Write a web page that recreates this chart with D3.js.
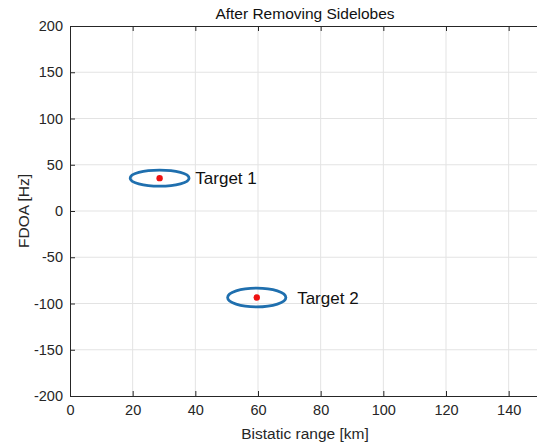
<!DOCTYPE html>
<html>
<head>
<meta charset="utf-8">
<script src="https://cdn.jsdelivr.net/npm/d3@7"></script>
<style>
  body { margin: 0; background: #fff; }
  svg { display: block; font-family: "Liberation Sans", Arial, sans-serif; }
</style>
</head>
<body>
<svg width="537" height="445"></svg>
<script>
// targets: center (range km, FDOA Hz) and ellipse half-widths
var targetNames = ["Target 1", "Target 2"];
var targetRange = [28.6, 59.6];
var targetFdoa = [35.5, -93.5];
var ellipseRx = [9.4, 9.3];
var ellipseRy = [8.7, 10.2];
var labelRange = [40, 72.5];
var xTicks = [0, 20, 40, 60, 80, 100, 120, 140];
var yTicks = [-200, -150, -100, -50, 0, 50, 100, 150, 200];

var width = 537;
var height = 445;
var margin = ({top: 26, right: -3, bottom: 49, left: 70});
var plotW = 470, plotH = 370;

var x = d3.scaleLinear()
    .domain([0, 150])
    .range([margin.left, margin.left + plotW]);
var y = d3.scaleLinear()
    .domain([-200, 200])
    .range([margin.top + plotH, margin.top]);

var targets = targetNames.map((name, i) => ({
  name, r: targetRange[i], f: targetFdoa[i],
  rx: ellipseRx[i], ry: ellipseRy[i], lr: labelRange[i]
}));

// MATLAB prints a plain hyphen for negatives
var fmt = d => String(d);

(function chart() {
  var svg = d3.select("svg");
  var axisColor = "#262626";

  // grid
  svg.append("g")
    .selectAll("line")
    .data(xTicks.filter(d => d > 0))
    .join("line")
      .attr("x1", d => x(d)).attr("x2", d => x(d))
      .attr("y1", y(-200)).attr("y2", y(200))
      .attr("stroke", "#e3e3e3").attr("stroke-width", 1);
  svg.append("g")
    .selectAll("line")
    .data(yTicks.filter(d => d > -200 && d < 200))
    .join("line")
      .attr("x1", x(0)).attr("x2", x(150))
      .attr("y1", d => y(d)).attr("y2", d => y(d))
      .attr("stroke", "#e3e3e3").attr("stroke-width", 1);

  // axes (ticks inward, MATLAB style)
  var xAxis = g => g
    .attr("transform", `translate(0,${y(-200)})`)
    .call(d3.axisBottom(x).tickValues(xTicks).tickFormat(fmt).tickSize(-5).tickPadding(9).tickSizeOuter(0))
    .call(g => g.select(".domain").attr("stroke", axisColor))
    .call(g => g.selectAll(".tick line").attr("stroke", axisColor))
    .call(g => g.selectAll(".tick text").attr("fill", axisColor).attr("font-size", 14.5).attr("font-family", null));
  var xTop = g => g
    .attr("transform", `translate(0,${y(200)})`)
    .call(d3.axisTop(x).tickValues(xTicks).tickSize(-5).tickFormat("").tickSizeOuter(0))
    .call(g => g.select(".domain").attr("stroke", axisColor))
    .call(g => g.selectAll(".tick line").attr("stroke", axisColor));
  var yAxis = g => g
    .attr("transform", `translate(${x(0)},0)`)
    .call(d3.axisLeft(y).tickValues(yTicks).tickFormat(fmt).tickSize(-5).tickPadding(7).tickSizeOuter(0))
    .call(g => g.select(".domain").attr("stroke", axisColor))
    .call(g => g.selectAll(".tick line").attr("stroke", axisColor))
    .call(g => g.selectAll(".tick text").attr("fill", axisColor).attr("font-size", 14.5).attr("font-family", null));

  svg.append("g").call(xAxis);
  svg.append("g").call(xTop);
  svg.append("g").call(yAxis);

  // ellipses
  svg.append("g")
    .selectAll("ellipse")
    .data(targets)
    .join("ellipse")
      .attr("cx", d => x(d.r))
      .attr("cy", d => y(d.f))
      .attr("rx", d => x(d.r + d.rx) - x(d.r))
      .attr("ry", d => y(d.f) - y(d.f + d.ry))
      .attr("fill", "none")
      .attr("stroke", "#1f6fae")
      .attr("stroke-width", 2.8);

  // target points
  svg.append("g")
    .selectAll("circle")
    .data(targets)
    .join("circle")
      .attr("cx", d => x(d.r))
      .attr("cy", d => y(d.f))
      .attr("r", 3.2)
      .attr("fill", "#ee1111");

  // labels
  svg.append("g")
    .selectAll("text")
    .data(targets)
    .join("text")
      .attr("x", d => x(d.lr))
      .attr("y", d => y(d.f))
      .attr("dy", "0.36em")
      .attr("font-size", 17)
      .attr("fill", "#111")
      .text(d => d.name);

  // title and axis labels
  svg.append("text")
    .attr("x", x(75)).attr("y", 19)
    .attr("text-anchor", "middle")
    .attr("font-size", 15.5)
    .attr("fill", "#111")
    .text("After Removing Sidelobes");
  svg.append("text")
    .attr("x", x(75)).attr("y", 439)
    .attr("text-anchor", "middle")
    .attr("font-size", 15.5)
    .attr("fill", axisColor)
    .text("Bistatic range [km]");
  svg.append("text")
    .attr("transform", `translate(29,${y(0)}) rotate(-90)`)
    .attr("text-anchor", "middle")
    .attr("font-size", 15.5)
    .attr("fill", axisColor)
    .text("FDOA [Hz]");

  return svg.node();
})();
</script>
</body>
</html>
